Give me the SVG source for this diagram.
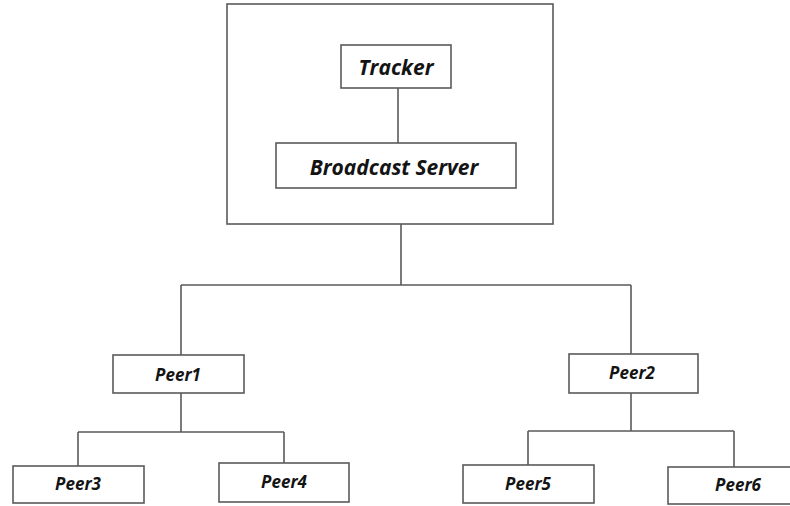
<svg xmlns="http://www.w3.org/2000/svg" width="790" height="506" viewBox="0 0 790 506">
<style>
.box{fill:#fff;stroke:#5a5a5a;stroke-width:1.6}
.ln{fill:none;stroke:#5a5a5a;stroke-width:1.6}
.big{font-family:"Open Sans",Lato,"Liberation Sans",sans-serif;font-weight:bold;font-style:italic;font-size:21px;fill:#141414;text-anchor:middle}
.sm{font-family:"Open Sans",Lato,"Liberation Sans",sans-serif;font-weight:bold;font-style:italic;font-size:17px;fill:#141414;text-anchor:middle}
</style>
<rect width="790" height="506" fill="#fff"/>
<g id="server-group">
<rect class="box" x="227" y="4" width="326" height="220"/>
</g>
<g id="connectors">
<path class="ln" d="M398 88V143"/>
<path class="ln" d="M401 224V285M181 285H631M181 285V355M631 285V354"/>
<path class="ln" d="M181 393V432M78 432H284M78 432V466M284 432V463"/>
<path class="ln" d="M631 393V431M528 431H734M528 431V465M734 431V467"/>
</g>
<g id="tracker">
<rect class="box" x="341" y="45" width="110" height="43"/>
<text class="big" x="396" y="75">Tracker</text>
</g>
<g id="broadcast-server">
<rect class="box" x="276" y="143" width="240" height="45"/>
<text class="big" x="394" y="175">Broadcast Server</text>
</g>
<g id="peer1">
<rect class="box" x="113" y="355" width="131" height="38"/>
<text class="sm" x="178" y="381">Peer1</text>
</g>
<g id="peer2">
<rect class="box" x="569" y="354" width="129" height="39"/>
<text class="sm" x="632" y="379">Peer2</text>
</g>
<g id="peer3">
<rect class="box" x="13" y="466" width="131" height="37"/>
<text class="sm" x="78" y="490">Peer3</text>
</g>
<g id="peer4">
<rect class="box" x="219" y="463" width="130" height="39"/>
<text class="sm" x="284" y="488">Peer4</text>
</g>
<g id="peer5">
<rect class="box" x="463" y="465" width="131" height="38"/>
<text class="sm" x="528" y="490">Peer5</text>
</g>
<g id="peer6">
<rect class="box" x="668" y="467" width="140" height="37"/>
<text class="sm" x="738" y="491">Peer6</text>
</g>
</svg>
